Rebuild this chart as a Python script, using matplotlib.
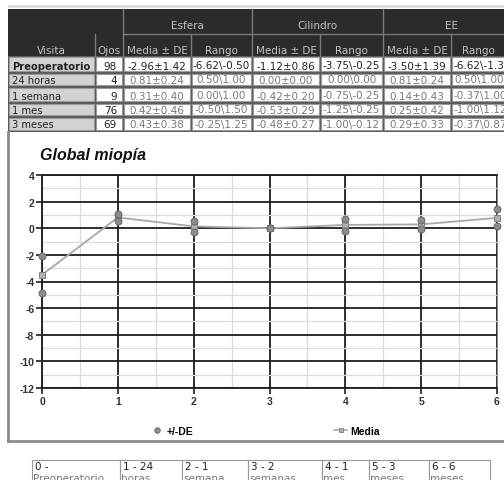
import matplotlib
matplotlib.use("Agg")
import matplotlib.pyplot as plt
from matplotlib.patches import Rectangle
from matplotlib.lines import Line2D
from matplotlib.ticker import MultipleLocator

plt.rcParams['axes.unicode_minus'] = False

# ---------------- data ----------------
visitas = ['Preoperatorio', '24 horas', '1 semana', '1 mes', '3 meses']
ojos = ['98', '4', '9', '76', '69']
esf_media = ['-2.96±1.42', '0.81±0.24', '0.31±0.40', '0.42±0.46', '0.43±0.38']
esf_rango = ['-6.62\\-0.50', '0.50\\1.00', '0.00\\1.00', '-0.50\\1.50', '-0.25\\1.25']
cil_media = ['-1.12±0.86', '0.00±0.00', '-0.42±0.20', '-0.53±0.29', '-0.48±0.27']
cil_rango = ['-3.75\\-0.25', '0.00\\0.00', '-0.75\\-0.25', '-1.25\\-0.25', '-1.00\\-0.12']
ee_media = ['-3.50±1.39', '0.81±0.24', '0.14±0.43', '0.25±0.42', '0.29±0.33']
ee_rango = ['-6.62\\-1.37', '0.50\\1.00', '-0.37\\1.00', '-1.00\\1.12', '-0.37\\0.87']
group_headers = ['Esfera', 'Cilindro', 'EE']
sub_headers = ['Visita', 'Ojos', 'Media ± DE', 'Rango', 'Media ± DE', 'Rango', 'Media ± DE', 'Rango']

x_vals = [0, 1, 2, 3, 4, 5, 6]
media = [-3.50, 0.81, 0.14, 0.00, 0.25, 0.29, 0.78]
de_sup = [-2.11, 1.05, 0.57, 0.00, 0.67, 0.62, 1.45]
de_inf = [-4.89, 0.57, -0.29, 0.00, -0.17, -0.04, 0.20]

leyenda_x = ['0 -\nPreoperatorio', '1 - 24\nhoras', '2 - 1\nsemana', '3 - 2\nsemanas',
             '4 - 1\nmes', '5 - 3\nmeses', '6 - 6\nmeses']

# ---------------- layout (pixels) ----------------
W, H = 504, 481
fig = plt.figure(figsize=(W / 100, H / 100), dpi=100)
bg = fig.add_axes([0, 0, 1, 1])
bg.set_xlim(0, W)
bg.set_ylim(H, 0)
bg.axis('off')

col_edges = [8, 95, 123, 191, 252, 320, 383, 451, 520]
h_top, h_mid, h_bot = 10, 35, 57
row_edges = [57, 74, 88, 104, 118, 133]
dark = '#2b2b2b'
hdr_txt = '#c4c4c4'

bg.add_patch(Rectangle((8, 6), 520, 2.5, facecolor='#dddddd', edgecolor='none'))
bg.add_patch(Rectangle((8, h_top), 520, h_bot - h_top, facecolor=dark, edgecolor='none'))
bg.plot([123, 520], [h_mid, h_mid], color='#7a7a7a', lw=1.0)
for xe in [123, 252, 383]:
    bg.plot([xe, xe], [h_top, h_bot], color='#7a7a7a', lw=1.0)
for xe in [95, 191, 320, 451]:
    bg.plot([xe, xe], [h_mid, h_bot], color='#7a7a7a', lw=1.0)
grp_centers = [187, 317, 452]
for cx, g in zip(grp_centers, group_headers):
    bg.text(cx, 29, g, color=hdr_txt, fontsize=7.5, ha='center', va='baseline')
for i, s in enumerate(sub_headers):
    a, b = col_edges[i], col_edges[i + 1]
    cx = (a + b) / 2 if i < 7 else 478
    bg.text(cx, 54, s, color=hdr_txt, fontsize=7.5, ha='center', va='baseline')

bg.add_patch(Rectangle((8, row_edges[0]), 520, row_edges[-1] - row_edges[0],
                       facecolor='#5a5a5a', edgecolor='none'))
columns = [visitas, ojos, esf_media, esf_rango, cil_media, cil_rango, ee_media, ee_rango]
for r in range(len(visitas)):
    y0, y1 = row_edges[r], row_edges[r + 1]
    for c in range(len(columns)):
        a, b = col_edges[c], col_edges[c + 1]
        face = '#d3d3d3' if c == 0 else 'white'
        bg.add_patch(Rectangle((a + 1.2, y0 + 1.2), (b - a) - 2.4, (y1 - y0) - 3.4,
                               facecolor=face, edgecolor='#9a9a9a', lw=0.8))
        txt = columns[c][r]
        if c == 0:
            bg.text(a + 4, y1 - 4.5, txt, fontsize=7.2, color='#222222', ha='left',
                    va='baseline', fontweight='bold' if r == 0 else 'normal')
        else:
            col = '#222222' if (r == 0 or c == 1) else '#7a7a7a'
            if c == 1:
                bg.text(b - 6, y1 - 4.5, txt, fontsize=7.5, color=col, ha='right', va='baseline')
            else:
                bg.text((a + b) / 2 if c < 7 else a + 3, y1 - 4.5, txt, fontsize=7.5, color=col,
                        ha='center' if c < 7 else 'left', va='baseline')

# chart panel frame
bg.plot([8, 8], [133, 442], color='#8a8a8a', lw=2)
bg.plot([8, 520], [442, 442], color='#8a8a8a', lw=2)
bg.text(40, 160, 'Global miopía', fontsize=11.5, fontweight='bold', fontstyle='italic',
        family='Liberation Sans', color='#111111', ha='left', va='baseline')

# bottom legend table
bot_edges = [32, 120, 182, 248, 322, 369, 429, 490]
for i, lab in enumerate(leyenda_x):
    a, b = bot_edges[i], bot_edges[i + 1]
    bg.add_patch(Rectangle((a, 461), b - a, 40, facecolor='white', edgecolor='#999999', lw=0.8))
    first, second = lab.split('\n')
    bg.text(a + 3, 470, first, fontsize=7.5, color='#222222', ha='left', va='baseline')
    bg.text(a + 1, 482, second, fontsize=7.5, color='#777777', ha='left', va='baseline')

# ---------------- plot ----------------
ax = fig.add_axes([42 / W, 1 - 389 / H, 455 / W, 213 / H])
ax.set_xlim(0, 6)
ax.set_ylim(-12, 4)
ax.xaxis.set_major_locator(MultipleLocator(1))
ax.xaxis.set_minor_locator(MultipleLocator(0.5))
ax.yaxis.set_major_locator(MultipleLocator(2))
ax.yaxis.set_minor_locator(MultipleLocator(1))
ax.grid(which='minor', color='#dcdcdc', lw=0.9)
ax.grid(which='major', color='#1e1e1e', lw=1.3)
ax.set_axisbelow(True)
for s in ['left', 'bottom', 'top']:
    ax.spines[s].set_color('#1e1e1e')
    ax.spines[s].set_linewidth(1.3)
ax.spines['right'].set_color('#8a8a8a')
ax.tick_params(which='major', direction='out', length=4, width=1.2, color='#1e1e1e',
               labelsize=7.5, labelcolor='#333333', pad=1.5)
ax.tick_params(which='minor', length=0)
for lbl in ax.get_xticklabels() + ax.get_yticklabels():
    lbl.set_fontweight('bold')
    lbl.set_family('Liberation Sans')

ax.plot(x_vals, media, color='#a8a8a8', lw=1.3, marker='s', ms=4.5,
        mfc='#b0b0b0', mec='#808080', mew=0.7, zorder=4, clip_on=False)
ax.plot(x_vals, de_sup, ls='none', marker='o', ms=5, mfc='#8c8c8c', mec='#6a6a6a',
        mew=0.7, zorder=5, clip_on=False)
ax.plot(x_vals, de_inf, ls='none', marker='o', ms=5, mfc='#8c8c8c', mec='#6a6a6a',
        mew=0.7, zorder=5, clip_on=False)

# legend
h1 = Line2D([], [], ls='none', marker='o', ms=4, mfc='#8c8c8c', mec='#6a6a6a', mew=0.6)
h2 = Line2D([], [], color='#a8a8a8', lw=1.2, marker='s', ms=3.5, mfc='#b0b0b0', mec='#808080', mew=0.6)
fig.legend([h1, h2], ['+/-DE', 'Media'], loc='center', ncol=2,
           bbox_to_anchor=(265 / W, 1 - 432 / H), frameon=False,
           prop={'size': 7.5, 'weight': 'bold', 'family': 'Liberation Sans'},
           handlelength=1.3, handletextpad=0.3, columnspacing=13.5)

fig.savefig('out.png', dpi=100)
